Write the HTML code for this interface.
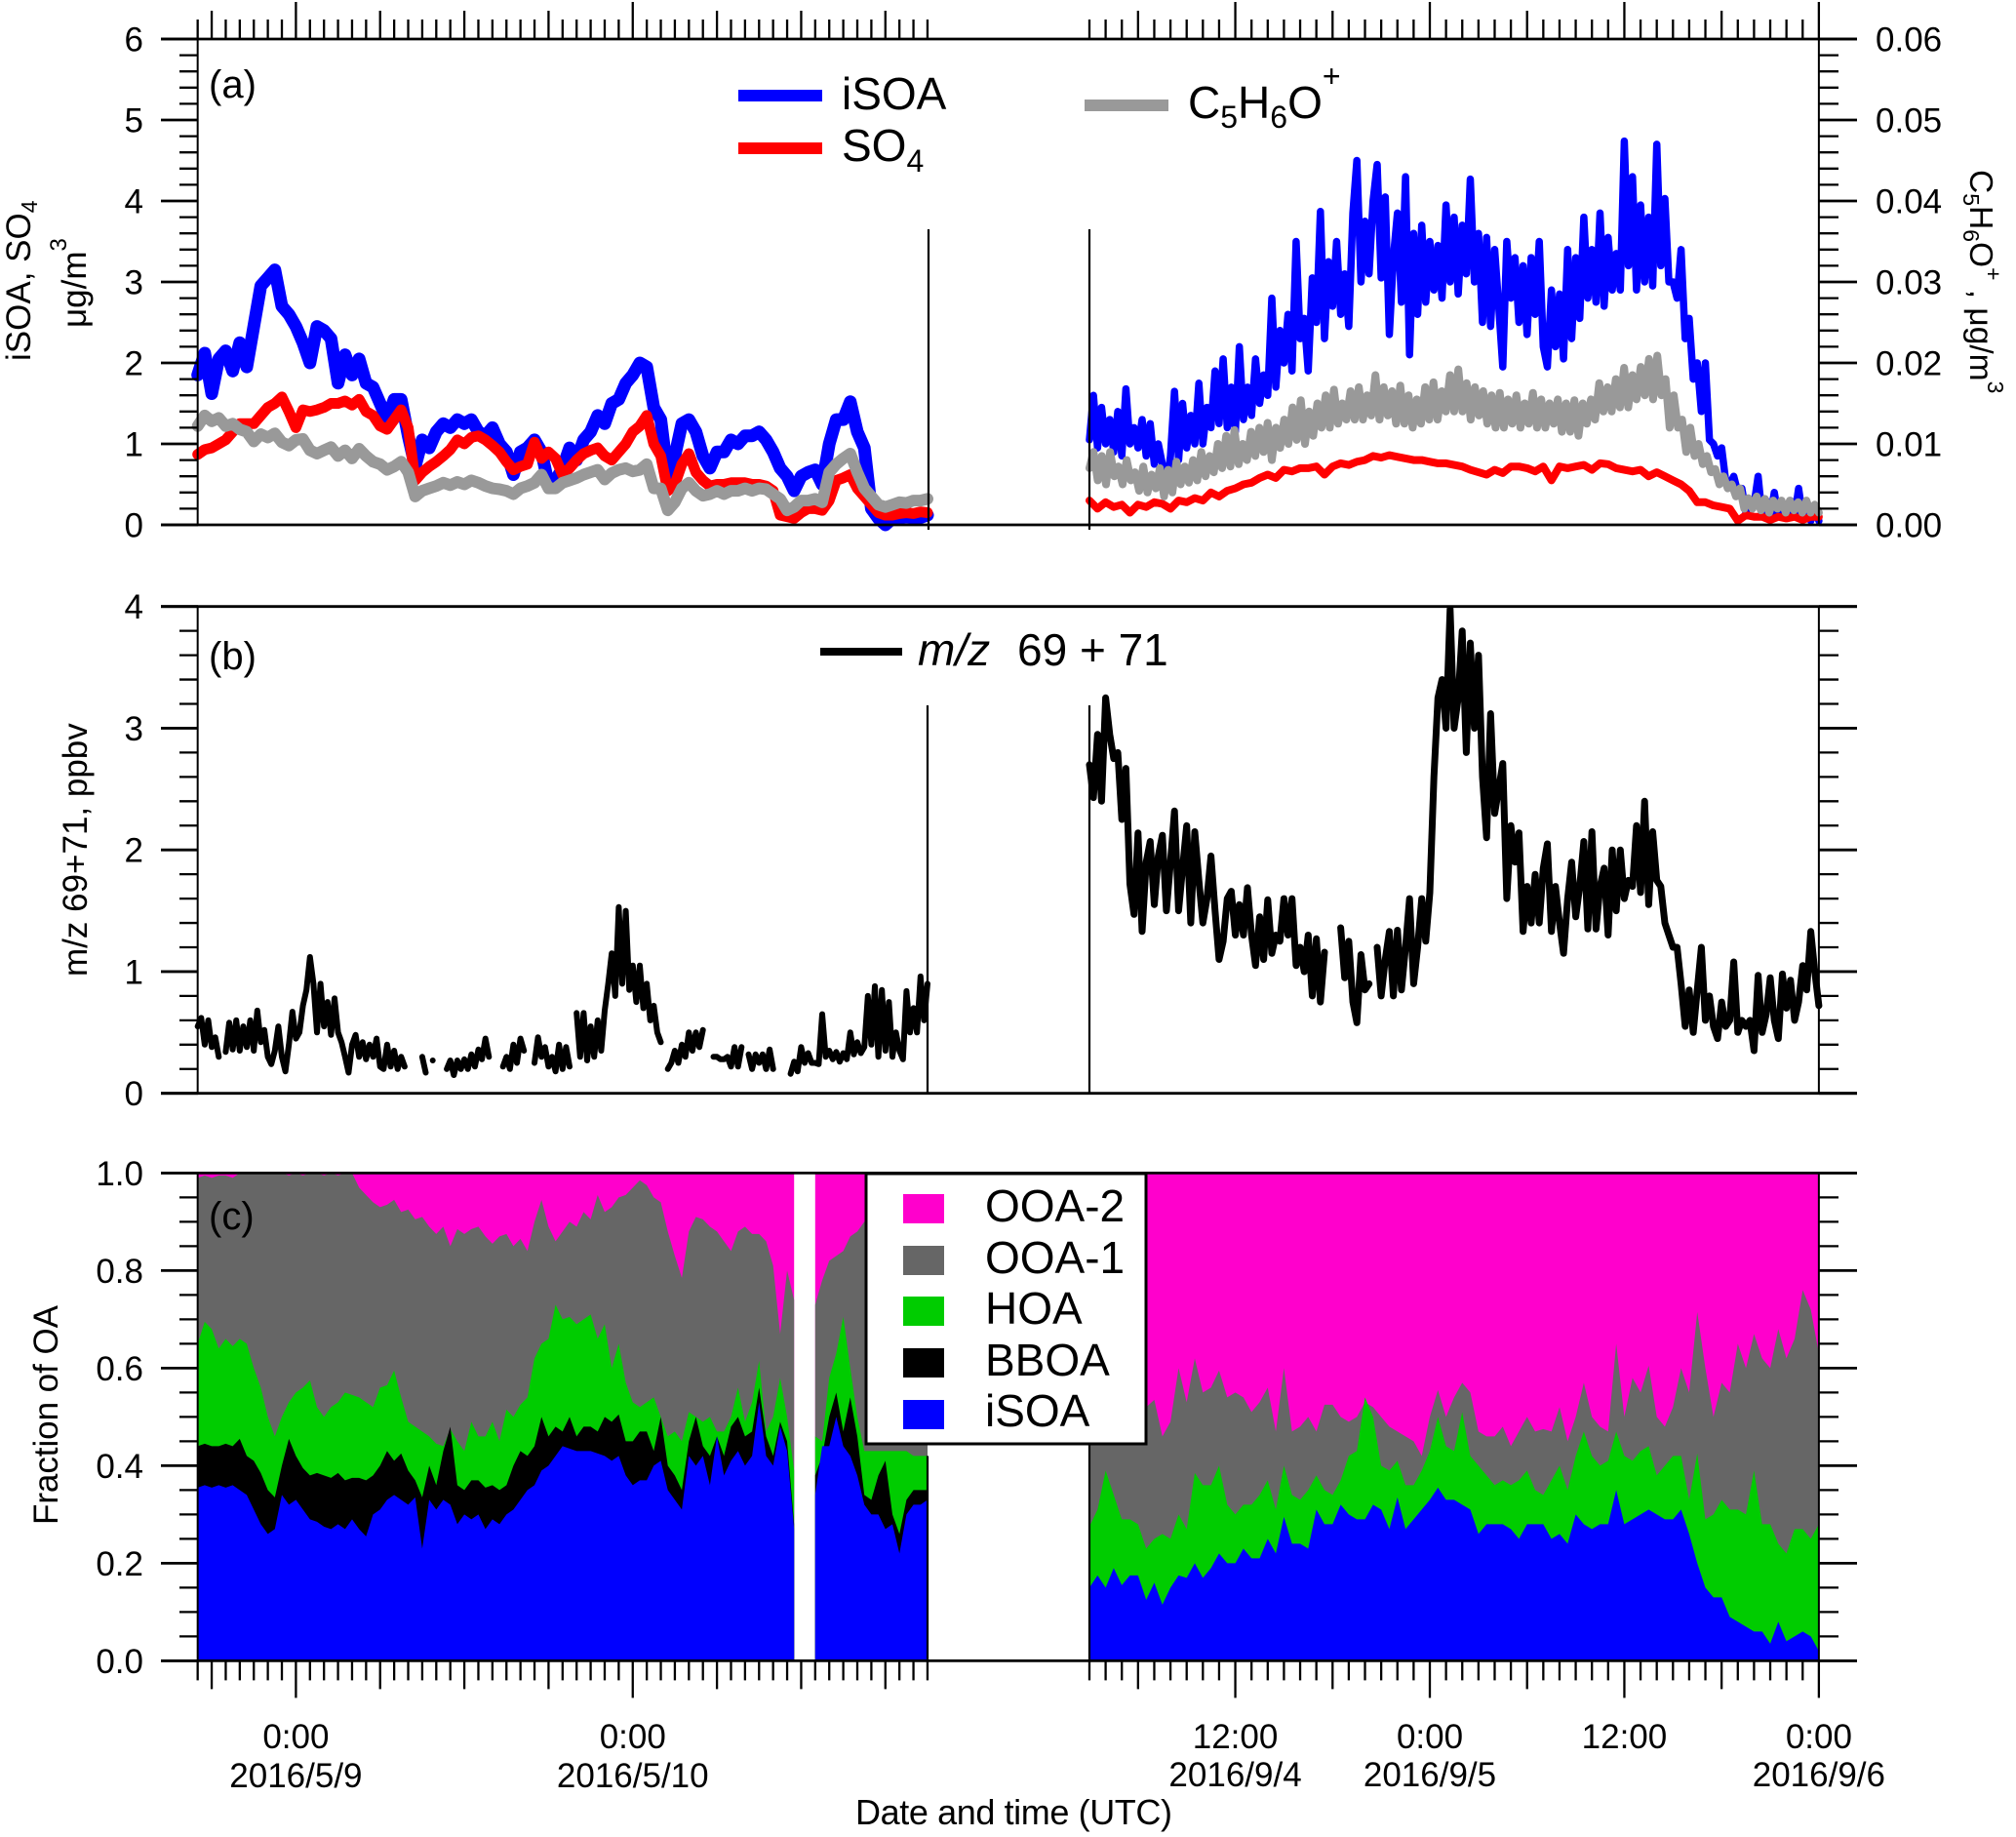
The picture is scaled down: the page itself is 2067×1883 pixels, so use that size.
<!DOCTYPE html>
<html lang="en">
<head>
<meta charset="utf-8">
<title>iSOA, SO4, m/z 69+71 and OA fractions</title>
<style>
html,body{margin:0;padding:0;background:#fff;}
svg{display:block;}
text{font-family:"Liberation Sans",Arial,sans-serif;fill:#000;}
</style>
</head>
<body>
<svg id="chart" xmlns="http://www.w3.org/2000/svg" width="2067" height="1883" viewBox="0 0 2067 1883">
<rect x="0" y="0" width="2067" height="1883" fill="#fff"/>
<g id="marks"></g>
<g id="axes"></g>

<text x="214" y="100" font-size="40">(a)</text>
<text x="214" y="686" font-size="40">(b)</text>
<text x="214" y="1260" font-size="40">(c)</text>

<text transform="translate(31,370) rotate(-90)" font-size="35">iSOA, SO<tspan font-size="23" dy="7">4</tspan></text>
<text transform="translate(88,336) rotate(-90)" font-size="35">μg/m<tspan font-size="24" dy="-20">3</tspan></text>
<text transform="translate(2020,174) rotate(90)" font-size="33.5">C<tspan font-size="23" dy="7">5</tspan><tspan dy="-7">H</tspan><tspan font-size="23" dy="7">6</tspan><tspan dy="-7">O</tspan><tspan font-size="23" dy="-16">+</tspan><tspan dy="16"> , μg/m</tspan><tspan font-size="23" dy="-18">3</tspan></text>
<text transform="translate(89,1001) rotate(-90)" font-size="35">m/z 69+71, ppbv</text>
<text transform="translate(59,1563) rotate(-90)" font-size="35" textLength="225">Fraction of OA</text>
<text x="877" y="1870" font-size="36" textLength="325">Date and time (UTC)</text>

<g>
<rect x="757" y="92" width="86" height="12" fill="#0000ff"/>
<text x="863" y="112" font-size="46">iSOA</text>
<rect x="757" y="146" width="86" height="12" fill="#ff0000"/>
<text x="863" y="165" font-size="46">SO<tspan font-size="32" dy="11">4</tspan></text>
<rect x="1112" y="102" width="86" height="12" fill="#999999"/>
<text x="1218" y="121" font-size="46">C<tspan font-size="32" dy="10">5</tspan><tspan dy="-10">H</tspan><tspan font-size="32" dy="10">6</tspan><tspan dy="-10">O</tspan><tspan font-size="32" dy="-32">+</tspan></text>
</g>
<g>
<rect x="841" y="664" width="84" height="8" fill="#000"/>
<text x="941" y="682" font-size="46" font-style="italic">m/z</text>
<text x="1043" y="682" font-size="46">69 + 71</text>
</g>
<g>
<rect x="888" y="1203" width="287" height="277" fill="#fff" stroke="#000" stroke-width="3"/>
<rect x="926" y="1224" width="42" height="30" fill="#ff00cc"/>
<text x="1010" y="1252" font-size="46">OOA-2</text>
<rect x="926" y="1277" width="42" height="30" fill="#666666"/>
<text x="1010" y="1305" font-size="46">OOA-1</text>
<rect x="926" y="1329" width="42" height="30" fill="#00cc00"/>
<text x="1010" y="1357" font-size="46">HOA</text>
<rect x="926" y="1382" width="42" height="30" fill="#000"/>
<text x="1010" y="1410" font-size="46">BBOA</text>
<rect x="926" y="1435" width="42" height="30" fill="#0000ff"/>
<text x="1010" y="1462" font-size="46">iSOA</text>
</g>
</svg>
<script>
// Tick labels
const yTicksA = ['0','1','2','3','4','5','6'];
const yTicksA2 = ['0.00','0.01','0.02','0.03','0.04','0.05','0.06'];
const yTicksB = ['0','1','2','3','4'];
const yTicksC = ['0.0','0.2','0.4','0.6','0.8','1.0'];
const xTickHoursLeft = [0,24];
const xTimeLabelsLeft = ['0:00','0:00'];
const xDateLabelsLeft = ['2016/5/9','2016/5/10'];
const xTickHoursRight = [-12,0,12,24];
const xTimeLabelsRight = ['12:00','0:00','12:00','0:00'];
const xDateLabelsRight = ['2016/9/4','2016/9/5','','2016/9/6'];

// Panel (a), May segment, 30-minute samples from 5/8 17:00
const isoaMay = [1.85,2.12,1.62,2.05,2.15,1.9,2.25,1.95,2.45,2.95,3.05,3.15,2.7,2.6,2.45,2.25,2.0,2.45,2.4,2.3,1.75,2.1,1.85,2.05,1.75,1.7,1.5,1.3,1.55,1.55,1.1,0.72,1.05,0.95,1.15,1.25,1.2,1.3,1.25,1.3,1.15,1.1,1.2,1.0,0.9,0.62,0.9,0.95,1.05,0.9,0.5,0.55,0.7,0.95,0.8,1.05,1.15,1.35,1.25,1.5,1.55,1.75,1.85,2.0,1.95,1.45,1.3,0.6,0.85,1.25,1.3,1.15,0.85,0.7,0.9,0.9,1.05,1.0,1.1,1.1,1.15,1.05,0.9,0.7,0.6,0.42,0.6,0.65,0.68,0.5,1.0,1.3,1.3,1.52,1.15,0.95,0.2,0.08,0.0,0.08,0.08,0.1,0.08,0.09,0.12];
const so4May = [0.87,0.93,0.95,1.0,1.05,1.15,1.25,1.25,1.25,1.35,1.45,1.5,1.58,1.4,1.2,1.42,1.4,1.42,1.45,1.5,1.5,1.53,1.48,1.55,1.4,1.35,1.22,1.18,1.3,1.42,1.2,0.55,0.65,0.72,0.78,0.85,0.93,1.05,1.0,1.08,1.1,1.05,0.98,0.9,0.78,0.68,0.72,0.75,1.02,0.82,0.9,0.82,0.62,0.7,0.8,0.88,0.92,0.95,0.85,0.8,0.9,1.0,1.15,1.22,1.35,1.0,0.85,0.42,0.5,0.75,0.88,0.65,0.55,0.48,0.5,0.5,0.52,0.52,0.52,0.5,0.5,0.48,0.42,0.12,0.1,0.08,0.15,0.2,0.2,0.18,0.3,0.55,0.58,0.62,0.45,0.35,0.25,0.15,0.12,0.12,0.14,0.15,0.14,0.16,0.15];
const c5h6oMay = [0.0122,0.0135,0.0128,0.0132,0.0122,0.0125,0.0118,0.0115,0.0103,0.0112,0.0108,0.0113,0.0102,0.0098,0.0105,0.0106,0.0092,0.0088,0.0092,0.0096,0.0085,0.0092,0.0082,0.0094,0.0085,0.0078,0.0075,0.0068,0.0072,0.0078,0.0065,0.0035,0.0042,0.0045,0.0048,0.0052,0.0049,0.0053,0.005,0.0055,0.0052,0.0048,0.0045,0.0044,0.0042,0.0038,0.0045,0.0048,0.0052,0.0062,0.0045,0.0045,0.0052,0.0055,0.0058,0.0062,0.0065,0.0068,0.0056,0.0064,0.0068,0.007,0.0066,0.0068,0.0075,0.0045,0.0045,0.0018,0.0028,0.0045,0.0052,0.0042,0.0036,0.0038,0.0042,0.0038,0.0042,0.0042,0.0045,0.0042,0.0045,0.0044,0.0038,0.0032,0.0018,0.0022,0.003,0.003,0.0032,0.0028,0.0065,0.0075,0.0082,0.0088,0.0065,0.0045,0.0035,0.0025,0.0022,0.0025,0.0028,0.0027,0.003,0.003,0.0032];

// Panel (a), September segment
const isoaSep = [1.05,1.6,0.95,1.45,1.0,1.3,0.9,1.4,0.85,1.68,1.0,1.2,0.95,1.3,0.85,1.25,0.75,1.0,0.75,0.45,0.85,1.65,0.8,1.5,0.95,1.35,1.0,1.75,1.0,1.45,1.2,1.9,1.25,2.05,1.2,1.7,1.15,2.2,1.3,1.7,1.35,2.05,1.5,1.85,1.6,2.8,1.7,2.4,2.0,2.6,1.9,3.5,2.3,2.55,1.9,3.05,2.5,3.87,2.3,3.25,2.7,3.5,2.6,3.1,2.45,3.85,4.5,3.0,3.75,3.1,4.0,4.45,3.05,4.05,2.35,3.3,3.85,2.75,4.3,2.1,3.6,2.6,3.7,2.75,3.5,2.9,3.45,2.8,3.95,3.0,3.8,2.85,3.7,3.1,4.27,3.0,3.6,2.5,3.55,2.45,3.4,2.7,1.95,3.5,2.8,3.3,2.5,3.2,2.35,3.3,2.6,3.5,2.2,1.95,2.9,2.2,2.85,2.05,3.4,2.3,3.3,2.55,3.8,2.8,3.4,2.75,3.85,2.7,3.55,2.9,3.35,2.9,4.74,3.2,4.3,2.9,3.95,3.0,3.8,2.95,4.7,3.2,4.03,3.0,3.0,2.8,3.4,2.3,2.55,1.8,2.0,1.4,2.0,1.05,1.0,0.85,0.95,0.55,0.5,0.6,0.4,0.45,0.15,0.3,0.25,0.6,0.1,0.3,0.1,0.4,0.1,0.25,0.1,0.3,0.1,0.45,0.1,0.25,0.05,0.2,0.05];
const so4Sep = [0.3,0.2,0.28,0.22,0.25,0.15,0.25,0.22,0.28,0.26,0.2,0.3,0.28,0.33,0.3,0.4,0.35,0.42,0.45,0.5,0.52,0.58,0.62,0.58,0.68,0.66,0.7,0.7,0.72,0.62,0.72,0.76,0.74,0.78,0.8,0.85,0.83,0.86,0.84,0.82,0.8,0.8,0.78,0.76,0.76,0.74,0.72,0.68,0.65,0.62,0.68,0.64,0.72,0.72,0.7,0.66,0.72,0.55,0.72,0.7,0.72,0.74,0.68,0.76,0.75,0.7,0.68,0.66,0.68,0.6,0.65,0.6,0.55,0.5,0.42,0.28,0.28,0.24,0.22,0.2,0.05,0.12,0.1,0.1,0.06,0.1,0.08,0.1,0.06,0.1,0.1];
const c5h6oSep = [0.007,0.009,0.0055,0.0085,0.005,0.009,0.006,0.0072,0.005,0.008,0.0055,0.0065,0.0042,0.0072,0.004,0.0062,0.0045,0.007,0.0035,0.0068,0.004,0.0078,0.005,0.0072,0.0052,0.008,0.0055,0.009,0.006,0.0085,0.0065,0.01,0.007,0.011,0.0072,0.0117,0.0075,0.01,0.008,0.0115,0.0085,0.012,0.009,0.0126,0.008,0.012,0.0095,0.013,0.01,0.0145,0.0105,0.0154,0.01,0.014,0.011,0.015,0.012,0.016,0.012,0.0167,0.0125,0.015,0.013,0.0165,0.013,0.017,0.013,0.016,0.0135,0.0185,0.013,0.017,0.0135,0.0165,0.0125,0.0172,0.0125,0.016,0.012,0.0155,0.0125,0.017,0.013,0.0176,0.013,0.0165,0.014,0.0185,0.014,0.0192,0.014,0.0175,0.013,0.017,0.0135,0.0165,0.0125,0.016,0.012,0.0163,0.012,0.0155,0.0125,0.016,0.012,0.015,0.0125,0.0163,0.012,0.0155,0.012,0.015,0.0125,0.0155,0.0115,0.015,0.0115,0.0154,0.011,0.015,0.0125,0.0155,0.013,0.0175,0.014,0.017,0.014,0.018,0.0145,0.0194,0.0145,0.0185,0.0155,0.0195,0.016,0.0205,0.0155,0.0209,0.016,0.018,0.012,0.016,0.012,0.013,0.009,0.012,0.0085,0.01,0.0075,0.0085,0.0065,0.0069,0.005,0.006,0.0045,0.005,0.0035,0.0045,0.002,0.0033,0.002,0.0035,0.0018,0.0032,0.0015,0.003,0.002,0.003,0.0015,0.003,0.0018,0.0028,0.0015,0.003,0.0015,0.0025,0.0015];

// Panel (b), 15-minute samples; null marks missing data
const mzMay = [0.55,0.62,0.4,0.6,0.38,0.46,0.3,null,0.34,0.58,0.36,0.6,0.35,0.55,0.38,0.6,0.35,0.68,0.42,0.52,0.3,0.24,0.35,0.55,0.3,0.18,0.4,0.67,0.45,0.5,0.72,0.85,1.12,0.9,0.5,0.9,0.55,0.75,0.48,0.78,0.5,0.42,0.3,0.17,0.4,0.48,0.3,0.42,0.28,0.4,0.3,0.45,0.22,0.2,0.4,0.22,0.35,0.2,0.3,0.22,null,null,null,null,0.3,0.17,null,0.27,null,null,null,0.2,0.27,0.15,0.27,0.2,0.28,0.2,0.32,0.22,0.36,0.28,0.45,0.3,null,null,null,0.22,0.3,0.2,0.4,0.25,0.45,0.35,null,null,0.25,0.46,0.3,0.38,0.22,0.3,0.18,0.4,0.2,0.38,0.22,null,0.66,0.3,0.66,0.27,0.55,0.3,0.6,0.35,0.68,0.9,1.15,0.8,1.53,0.9,1.5,0.85,1.05,0.75,1.05,0.7,0.9,0.6,0.72,0.5,0.42,null,0.2,0.25,0.35,0.25,0.4,0.3,0.5,0.35,0.5,0.38,0.52,null,null,0.3,0.3,0.28,0.28,0.3,0.22,0.38,0.22,0.38,null,0.32,0.2,0.32,0.25,0.32,0.2,0.36,0.2,null,null,null,null,0.16,0.26,0.18,0.38,0.25,0.33,0.25,0.25,0.24,0.65,0.3,0.35,0.28,0.34,0.26,0.33,0.28,0.5,0.32,0.42,0.33,0.38,0.8,0.4,0.88,0.3,0.85,0.35,0.75,0.3,0.5,0.35,0.28,0.84,0.5,0.7,0.5,0.96,0.6,0.9];
const mzSep = [2.7,2.43,2.95,2.4,3.25,2.95,2.75,2.8,2.25,2.67,1.72,1.47,2.14,1.33,1.9,2.07,1.55,1.95,2.12,1.5,1.9,2.32,1.5,1.85,2.2,1.4,2.15,1.75,1.4,1.6,1.95,1.5,1.1,1.25,1.6,1.66,1.3,1.55,1.3,1.69,1.3,1.05,1.45,1.1,1.59,1.15,1.3,1.25,1.6,1.3,1.6,1.05,1.2,1.0,1.3,0.8,1.27,0.75,1.16,null,null,null,1.36,0.95,1.25,0.75,0.58,1.14,0.85,0.9,null,1.2,0.8,1.1,1.33,0.8,1.34,0.85,1.2,1.6,0.9,1.2,1.6,1.25,1.65,2.6,3.25,3.4,3.0,3.98,3.0,3.25,3.8,2.8,3.7,3.0,3.6,2.6,2.1,3.12,2.3,2.5,2.71,1.6,2.2,1.9,2.14,1.33,1.7,1.4,1.8,1.4,1.85,2.05,1.33,1.7,1.4,1.15,1.6,1.9,1.45,1.7,2.07,1.35,2.15,1.35,1.7,1.85,1.3,2.0,1.5,2.0,1.6,1.75,1.7,2.2,1.65,2.4,1.55,2.15,1.75,1.7,1.4,1.3,1.2,1.2,0.9,0.55,0.85,0.5,0.85,1.2,0.6,0.8,0.55,0.45,0.75,0.55,0.6,1.08,0.5,0.6,0.55,0.6,0.35,0.97,0.5,0.65,0.95,0.6,0.45,0.98,0.7,0.93,0.6,0.75,1.05,0.85,1.33,1.0,0.72];

// Panel (c), cumulative fraction tops, May segment, 30-minute samples
const isoaTopMay = [0.355,0.36,0.355,0.36,0.355,0.36,0.35,0.34,0.31,0.28,0.26,0.27,0.34,0.32,0.33,0.31,0.29,0.285,0.275,0.27,0.28,0.27,0.29,0.27,0.255,0.3,0.31,0.33,0.34,0.33,0.32,0.335,0.23,0.33,0.31,0.33,0.32,0.28,0.3,0.29,0.3,0.27,0.29,0.28,0.3,0.31,0.33,0.35,0.36,0.39,0.4,0.42,0.44,0.435,0.43,0.43,0.43,0.425,0.42,0.41,0.42,0.38,0.36,0.37,0.37,0.4,0.41,0.35,0.33,0.31,0.42,0.4,0.42,0.36,0.46,0.38,0.41,0.43,0.4,0.42,0.53,0.42,0.4,0.48,0.43,0.27,null,null,0.34,0.44,0.44,0.5,0.44,0.42,0.38,0.32,0.3,0.3,0.27,0.28,0.22,0.3,0.32,0.32,0.33];
const bboaTopMay = [0.44,0.445,0.44,0.44,0.445,0.44,0.455,0.42,0.41,0.385,0.35,0.335,0.4,0.455,0.42,0.395,0.38,0.385,0.38,0.375,0.385,0.37,0.375,0.375,0.37,0.38,0.4,0.43,0.41,0.425,0.39,0.37,0.335,0.4,0.36,0.43,0.48,0.36,0.35,0.37,0.37,0.355,0.36,0.35,0.36,0.4,0.43,0.42,0.44,0.5,0.46,0.48,0.47,0.5,0.46,0.48,0.48,0.47,0.5,0.49,0.505,0.45,0.45,0.47,0.47,0.43,0.5,0.4,0.38,0.35,0.45,0.5,0.44,0.42,0.46,0.42,0.48,0.5,0.46,0.47,0.56,0.46,0.42,0.49,0.45,0.28,null,null,0.38,0.42,0.5,0.55,0.47,0.54,0.46,0.34,0.33,0.38,0.41,0.3,0.26,0.33,0.35,0.35,0.35];
const hoaTopMay = [0.65,0.695,0.68,0.64,0.66,0.645,0.66,0.65,0.6,0.56,0.5,0.46,0.5,0.53,0.55,0.56,0.575,0.52,0.5,0.52,0.53,0.55,0.545,0.54,0.53,0.52,0.56,0.565,0.595,0.54,0.49,0.48,0.47,0.46,0.445,0.44,0.475,0.45,0.43,0.49,0.46,0.46,0.49,0.45,0.515,0.5,0.525,0.54,0.62,0.65,0.66,0.73,0.7,0.705,0.69,0.7,0.71,0.66,0.69,0.6,0.65,0.57,0.53,0.52,0.53,0.54,0.5,0.46,0.47,0.45,0.51,0.5,0.49,0.5,0.47,0.47,0.5,0.56,0.49,0.53,0.615,0.47,0.5,0.58,0.5,0.39,null,null,0.46,0.45,0.58,0.63,0.705,0.6,0.5,0.43,0.43,0.43,0.43,0.43,0.43,0.43,0.42,0.42,0.42];
const ooa1TopMay = [0.99,0.995,0.99,0.995,0.995,0.99,1,1,1,1,1,1,1,0.995,1,0.995,1,1,0.995,1,0.995,1,1,0.97,0.955,0.94,0.93,0.935,0.945,0.92,0.925,0.905,0.91,0.89,0.875,0.89,0.85,0.885,0.875,0.885,0.89,0.87,0.855,0.87,0.875,0.85,0.865,0.84,0.9,0.945,0.89,0.86,0.88,0.9,0.89,0.92,0.905,0.955,0.92,0.93,0.95,0.955,0.97,0.985,0.975,0.95,0.94,0.88,0.83,0.785,0.88,0.91,0.905,0.89,0.88,0.86,0.84,0.88,0.89,0.875,0.875,0.86,0.81,0.67,0.8,0.74,null,null,0.73,0.78,0.82,0.83,0.84,0.87,0.88,0.9,0.9,0.9,0.9,0.9,0.9,0.9,0.9,0.9,0.9];

// Panel (c), cumulative fraction tops, September segment, 30-minute samples
const isoaTopSep = [0.15,0.175,0.15,0.19,0.155,0.175,0.175,0.125,0.16,0.115,0.15,0.175,0.17,0.2,0.17,0.19,0.22,0.2,0.2,0.23,0.21,0.21,0.25,0.22,0.295,0.24,0.24,0.23,0.31,0.28,0.28,0.32,0.3,0.29,0.29,0.32,0.31,0.27,0.335,0.27,0.29,0.31,0.33,0.355,0.33,0.33,0.32,0.31,0.26,0.28,0.28,0.28,0.27,0.25,0.28,0.28,0.28,0.25,0.26,0.24,0.3,0.28,0.27,0.28,0.28,0.35,0.28,0.29,0.3,0.31,0.3,0.29,0.29,0.31,0.26,0.2,0.15,0.13,0.13,0.09,0.08,0.07,0.06,0.06,0.035,0.08,0.04,0.05,0.06,0.05,0.02];
const hoaTopSep = [0.275,0.31,0.39,0.34,0.29,0.29,0.28,0.23,0.25,0.26,0.25,0.3,0.27,0.385,0.36,0.36,0.4,0.32,0.3,0.32,0.32,0.34,0.37,0.31,0.4,0.34,0.33,0.35,0.38,0.35,0.34,0.37,0.42,0.43,0.54,0.5,0.4,0.39,0.41,0.36,0.36,0.39,0.43,0.5,0.44,0.43,0.51,0.42,0.4,0.38,0.36,0.37,0.36,0.37,0.39,0.35,0.34,0.37,0.4,0.35,0.42,0.47,0.42,0.4,0.41,0.47,0.42,0.41,0.43,0.44,0.38,0.4,0.42,0.42,0.33,0.425,0.29,0.3,0.33,0.31,0.31,0.3,0.39,0.28,0.28,0.24,0.22,0.27,0.27,0.25,0.28];
const ooa1TopSep = [0.5,0.5,0.5,0.5,0.5,0.5,0.5,0.52,0.535,0.46,0.49,0.6,0.53,0.62,0.55,0.56,0.595,0.54,0.55,0.54,0.51,0.53,0.56,0.47,0.6,0.47,0.48,0.5,0.47,0.525,0.525,0.5,0.49,0.5,0.53,0.52,0.5,0.48,0.47,0.46,0.45,0.42,0.5,0.555,0.5,0.54,0.57,0.55,0.47,0.46,0.46,0.48,0.44,0.47,0.5,0.47,0.475,0.47,0.52,0.45,0.5,0.57,0.5,0.48,0.47,0.65,0.5,0.58,0.55,0.605,0.5,0.48,0.52,0.6,0.55,0.715,0.6,0.5,0.57,0.55,0.65,0.6,0.67,0.62,0.6,0.68,0.62,0.66,0.76,0.72,0.63];

// Axis functions (domain values to SVG pixels)
const mayStartHour = -7, mayEndHour = 45, sepStartHour = -21, sepEndHour = 24;
const xMay = h => 303.4 + 14.39 * h;
const xSep = h => 1466 + 16.62 * h;
const yA = v => 538 - 83 * v;
const yA2 = v => 538 - 8300 * v;
const yB = v => 1120.7 - 124.75 * v;
const yC = v => 1702.4 - 500 * v;

const NS = 'http://www.w3.org/2000/svg';
const marks = document.getElementById('marks');
const axes = document.getElementById('axes');

function hourAt(i, n, start, end) {
  return start + i * (end - start) / (n - 1);
}

function drawLine(values, xf, yf, start, end, color, width, name) {
  let d = '', pen = false;
  values.forEach((v, i) => {
    if (v === null) { pen = false; return; }
    const x = xf(hourAt(i, values.length, start, end)).toFixed(1);
    const y = yf(v).toFixed(1);
    d += pen ? 'L' + x + ' ' + y : 'M' + x + ' ' + y + 'L' + x + ' ' + y;
    pen = true;
  });
  const el = document.createElementNS(NS, 'path');
  
  
  el.setAttribute('d', d);
  el.setAttribute('fill', 'none');
  el.setAttribute('stroke', color);
  el.setAttribute('stroke-width', width);
  el.setAttribute('stroke-linejoin', 'round');
  el.setAttribute('stroke-linecap', 'round');
  marks.appendChild(el);
}

function drawArea(values, xf, start, end, color, name) {
  let d = '', run = [];
  const flush = () => {
    if (run.length) {
      d += 'M' + run[0][0] + ' ' + yC(0) + run.map(p => 'L' + p[0] + ' ' + p[1]).join('') + 'L' + run[run.length - 1][0] + ' ' + yC(0) + 'Z';
    }
    run = [];
  };
  values.forEach((v, i) => {
    if (v === null) { flush(); return; }
    run.push([xf(hourAt(i, values.length, start, end)).toFixed(1), yC(v).toFixed(1)]);
  });
  flush();
  const el = document.createElementNS(NS, 'path');
  
  
  el.setAttribute('d', d);
  el.setAttribute('fill', color);
  marks.appendChild(el);
}

function rule(x1, y1, x2, y2, w, name) {
  const el = document.createElementNS(NS, 'line');
  
  
  el.setAttribute('x1', x1);
  el.setAttribute('y1', y1);
  el.setAttribute('x2', x2);
  el.setAttribute('y2', y2);
  el.setAttribute('stroke', '#000');
  el.setAttribute('stroke-width', w);
  axes.appendChild(el);
}

function label(x, y, str, anchor, name) {
  const el = document.createElementNS(NS, 'text');
  
  
  el.setAttribute('x', x);
  el.setAttribute('y', y);
  el.setAttribute('font-size', '35');
  el.setAttribute('text-anchor', anchor);
  el.textContent = str;
  axes.appendChild(el);
}

// Panel (c) areas, painted from the top of the stack down
const ooa2TopMay = ooa1TopMay.map(v => v === null ? null : 1);
const ooa2TopSep = ooa1TopSep.map(() => 1);
drawArea(ooa2TopMay, xMay, mayStartHour, mayEndHour, '#ff00cc', 'area-ooa2-may');
drawArea(ooa1TopMay, xMay, mayStartHour, mayEndHour, '#666666', 'area-ooa1-may');
drawArea(hoaTopMay, xMay, mayStartHour, mayEndHour, '#00cc00', 'area-hoa-may');
drawArea(bboaTopMay, xMay, mayStartHour, mayEndHour, '#000000', 'area-bboa-may');
drawArea(isoaTopMay, xMay, mayStartHour, mayEndHour, '#0000ff', 'area-isoa-may');
drawArea(ooa2TopSep, xSep, sepStartHour, sepEndHour, '#ff00cc', 'area-ooa2-sep');
drawArea(ooa1TopSep, xSep, sepStartHour, sepEndHour, '#666666', 'area-ooa1-sep');
drawArea(hoaTopSep, xSep, sepStartHour, sepEndHour, '#00cc00', 'area-hoa-sep');
drawArea(isoaTopSep, xSep, sepStartHour, sepEndHour, '#0000ff', 'area-isoa-sep');

// Panel (a) lines
drawLine(isoaMay, xMay, yA, mayStartHour, mayEndHour, '#0000ff', 13, 'line-isoa-may');
drawLine(so4May, xMay, yA, mayStartHour, mayEndHour, '#ff0000', 11, 'line-so4-may');
drawLine(c5h6oMay, xMay, yA2, mayStartHour, mayEndHour, '#999999', 12, 'line-c5h6o-may');
drawLine(isoaSep, xSep, yA, sepStartHour, sepEndHour, '#0000ff', 7.5, 'line-isoa-sep');
drawLine(so4Sep, xSep, yA, sepStartHour, sepEndHour, '#ff0000', 8, 'line-so4-sep');
drawLine(c5h6oSep, xSep, yA2, sepStartHour, sepEndHour, '#999999', 8, 'line-c5h6o-sep');

// Panel (b) lines
drawLine(mzMay, xMay, yB, mayStartHour, mayEndHour, '#000000', 6, 'line-mz-may');
drawLine(mzSep, xSep, yB, sepStartHour, sepEndHour, '#000000', 7, 'line-mz-sep');

// Frames: horizontal rules, side axes, break lines
const panelFrames = [[yA(6), yA(0)], [yB(4), yB(0)], [yC(1), yC(0)]];
panelFrames.forEach(f => {
  rule(165, f[0], 1904, f[0], 2.8, 'axis-top-rule');
  rule(165, f[1], 1904, f[1], 2.8, 'axis-bottom-rule');
  rule(xMay(mayStartHour), f[0], xMay(mayStartHour), f[1], 2, 'axis-left-spine');
  rule(xSep(sepEndHour), f[0], xSep(sepEndHour), f[1], 2, 'axis-right-spine');
});
rule(952, 235, 952, 543, 2.2, 'break-line-left-a');
rule(xSep(sepStartHour), 235, xSep(sepStartHour), 543, 2.2, 'break-line-right-a');
rule(951, 723, 951, yB(0), 2.2, 'break-line-left-b');
rule(xSep(sepStartHour), 723, xSep(sepStartHour), yB(0), 2.2, 'break-line-right-b');
rule(951, yC(0.42), 951, yC(0), 2.2, 'break-line-left-c');
rule(xSep(sepStartHour), 1480, xSep(sepStartHour), yC(0), 2.2, 'break-line-right-c');

// Y ticks: major ticks and minors per interval
function yTicks(labels, labelsRight, yf, minValue, step, minors, name) {
  const minorStep = step / minors;
  const total = (labels.length - 1) * minors;
  for (let i = 0; i <= total; i++) {
    const v = minValue + i * minorStep;
    const y = yf(v);
    const major = i % minors === 0;
    rule(major ? 165 : 184, y, 203, y, major ? 2.8 : 2.3, name + '-tick-left');
    rule(1865, y, major ? 1904 : 1885, y, major ? 2.8 : 2.3, name + '-tick-right');
    if (major) {
      label(147, y + 12.5, labels[i / minors], 'end', name + '-tick-label-left');
      if (labelsRight) label(1923, y + 12.5, labelsRight[i / minors], 'start', name + '-tick-label-right');
    }
  }
}
yTicks(yTicksA, yTicksA2, yA, 0, 1, 5, 'y-axis-a');
yTicks(yTicksB, null, yB, 0, 1, 5, 'y-axis-b');
yTicks(yTicksC, null, yC, 0, 0.2, 4, 'y-axis-c');

// X ticks on the top of (a) and the bottom of (c)
function tickLen(h, majorEvery) {
  if (h % majorEvery === 0) return 38;
  if (h % 6 === 0) return 29;
  return 20;
}
for (let h = mayStartHour; h <= mayEndHour; h++) {
  const len = tickLen(h, 24);
  rule(xMay(h), yA(6), xMay(h), yA(6) - len, 2.3, 'x-tick-top-may');
  rule(xMay(h), yC(0), xMay(h), yC(0) + len, 2.3, 'x-tick-bottom-may');
}
for (let h = sepStartHour; h <= sepEndHour; h++) {
  const len = tickLen(h, 12);
  rule(xSep(h), yA(6), xSep(h), yA(6) - len, 2.3, 'x-tick-top-sep');
  rule(xSep(h), yC(0), xSep(h), yC(0) + len, 2.3, 'x-tick-bottom-sep');
}
xTickHoursLeft.forEach((h, i) => {
  label(xMay(h), 1792, xTimeLabelsLeft[i], 'middle', 'x-tick-time-may');
  label(xMay(h), 1832, xDateLabelsLeft[i], 'middle', 'x-tick-date-may');
});
xTickHoursRight.forEach((h, i) => {
  label(xSep(h), 1792, xTimeLabelsRight[i], 'middle', 'x-tick-time-sep');
  if (xDateLabelsRight[i]) label(xSep(h), 1831, xDateLabelsRight[i], 'middle', 'x-tick-date-sep');
});
</script>
</body>
</html>
